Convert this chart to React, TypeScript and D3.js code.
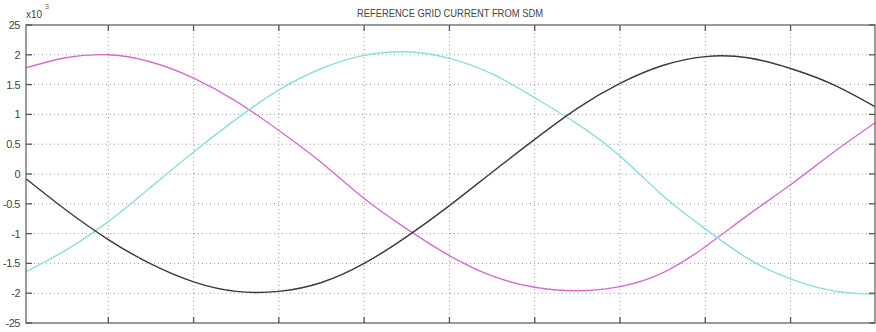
import React from "react";
import * as d3 from "d3";

const xSamples = [0.035, 0.5, 1, 1.5, 2, 2.5, 3, 3.5, 4, 4.5, 5, 5.5, 6, 6.5, 7, 7.5, 8, 8.5, 9, 9.5, 9.99];
const magenta = [1.78, 1.95, 2.0, 1.88, 1.61, 1.22, 0.73, 0.19, -0.41, -0.92, -1.37, -1.71, -1.9, -1.96, -1.89, -1.66, -1.22, -0.69, -0.18, 0.36, 0.86];
const cyan = [-1.64, -1.28, -0.8, -0.22, 0.37, 0.92, 1.41, 1.77, 1.99, 2.05, 1.94, 1.68, 1.28, 0.84, 0.3, -0.36, -0.92, -1.42, -1.76, -1.96, -2.02];
const black = [-0.08, -0.6, -1.1, -1.51, -1.81, -1.97, -1.97, -1.82, -1.5, -1.05, -0.53, 0.03, 0.58, 1.1, 1.52, 1.82, 1.97, 1.95, 1.77, 1.5, 1.13];
const xTicks = [1, 2, 3, 4, 5, 6, 7, 8, 9];
const yTicks = [2.5, 2, 1.5, 1, 0.5, 0, -0.5, -1, -1.5, -2, -2.5];
const yTickLabels = ["25", "2", "1.5", "1", "0.5", "0", "-0.5", "-1", "-1.5", "-2", "-25"];
const title = "REFERENCE GRID CURRENT FROM SDM";

export default function App() {
  const W = 876, H = 332;
  const left = 26, right = 875, top = 25, bottom = 323;
  const x = d3.scaleLinear().domain([0.035, 9.99]).range([left, right]);
  const y = d3.scaleLinear().domain([-2.5, 2.5]).range([bottom, top]);
  const line = d3.line<number>().x((_, i) => x(xSamples[i])).y((d) => y(d)).curve(d3.curveNatural);
  const series = [
    { data: magenta, color: "#d66bd0" },
    { data: cyan, color: "#86e0dc" },
    { data: black, color: "#3a3a3a" },
  ];
  const font = "'Liberation Sans', Arial, sans-serif";
  return (
    <svg width={W} height={H} style={{ position: "absolute", left: 0, top: 0, background: "#fff" }}>
      <rect x={0} y={0} width={W} height={H} fill="#fff" />
      {xTicks.map((t) => (
        <line key={"gx" + t} x1={x(t)} x2={x(t)} y1={top} y2={bottom} stroke="#999" strokeWidth={1} strokeDasharray="1,3" />
      ))}
      {yTicks.slice(1, -1).map((t) => (
        <line key={"gy" + t} x1={left} x2={right} y1={y(t)} y2={y(t)} stroke="#999" strokeWidth={1} strokeDasharray="1,3" />
      ))}
      {series.map((s, i) => (
        <path key={i} d={line(s.data) || ""} fill="none" stroke={s.color} strokeWidth={1.4} />
      ))}
      <rect x={left} y={top} width={right - left} height={bottom - top} fill="none" stroke="#666" strokeWidth={1.3} />
      {xTicks.map((t) => (
        <g key={"tx" + t}>
          <line x1={x(t)} x2={x(t)} y1={top} y2={top + 6} stroke="#555" strokeWidth={1.3} />
          <line x1={x(t)} x2={x(t)} y1={bottom} y2={bottom - 6} stroke="#555" strokeWidth={1.3} />
        </g>
      ))}
      {yTicks.map((t) => (
        <g key={"ty" + t}>
          <line x1={left} x2={left + 6} y1={y(t)} y2={y(t)} stroke="#555" strokeWidth={1.3} />
          <line x1={right} x2={right - 6} y1={y(t)} y2={y(t)} stroke="#555" strokeWidth={1.3} />
        </g>
      ))}
      {yTicks.map((t, i) => (
        <text key={"ly" + t} x={20} y={y(t) + 4} textAnchor="end" fontSize={11} fill="#444" fontFamily={font} letterSpacing={-0.5}>
          {yTickLabels[i]}
        </text>
      ))}
      <text x={26} y={18} fontSize={10} fill="#444" fontFamily={font}>x10</text>
      <text x={45} y={9} fontSize={7} fill="#666" fontFamily={font}>3</text>
      <text x={357} y={17} fontSize={11} fill="#444" fontFamily={font} textLength={186} lengthAdjust="spacingAndGlyphs">
        {title}
      </text>
    </svg>
  );
}
